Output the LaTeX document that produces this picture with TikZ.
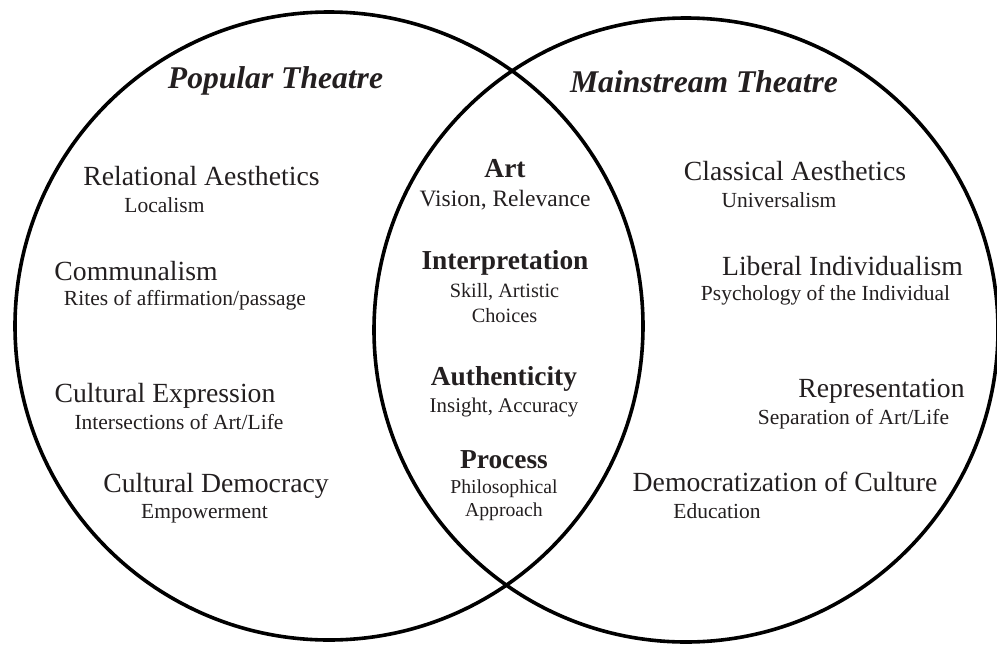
\documentclass[tikz,border=0pt]{standalone}
\usepackage{fontspec}
\setmainfont{Liberation Serif}
\usepackage{tikz}
\usepackage{xcolor}
\definecolor{inkcolor}{HTML}{231F20}
\colorlet{ringcolor}{black}
\tikzstyle{ring} = [
    draw=ringcolor,
    line width=3.6pt
    ]
\tikzstyle{settitle} = [
    text=inkcolor,
    anchor=base,
    inner sep=0pt,
    font=\fontsize{31.6}{34}\selectfont\bfseries\itshape
    ]
\tikzstyle{value} = [
    text=inkcolor,
    anchor=base,
    inner sep=0pt,
    font=\fontsize{27.7}{30}\selectfont
    ]
\tikzstyle{subvalue} = [
    text=inkcolor,
    anchor=base,
    inner sep=0pt,
    font=\fontsize{21.5}{24}\selectfont
    ]
\tikzstyle{shared} = [
    text=inkcolor,
    anchor=base,
    inner sep=0pt,
    font=\fontsize{27.4}{30}\selectfont\bfseries
    ]
% base of a two line node sits on its last line
\tikzstyle{subshared} = [
    text=inkcolor,
    anchor=base,
    inner sep=0pt,
    align=center
    ]

\begin{document}
\begin{tikzpicture}[x=1pt,y=-1pt]
\useasboundingbox (0,0) rectangle (997,646);

% the two sets
\draw[ring] (329,326) circle[radius=314pt];
\draw[ring] (686,330) circle[radius=312pt];

\node[settitle] (popular) at (275.5,88) {Popular Theatre};
\node[settitle] (mainstream) at (704,92) {Mainstream Theatre};

% left only
\node[value] (relational) at (201.5,185) {Relational Aesthetics};
\node[subvalue] (localism) at (164.5,212) {Localism};
\node[value] (communal) at (136,280) {Communalism};
\node[subvalue] (rites) at (185,305) {Rites of affirmation/passage};
\node[value] (expression) at (165,402) {Cultural Expression};
\node[subvalue] (intersect) at (179,429) {Intersections of Art/Life};
\node[value] (democracy) at (216,492) {Cultural Democracy};
\node[subvalue] (empower) at (204.5,518) {Empowerment};

% right only
\node[value] (classical) at (795,180) {Classical Aesthetics};
\node[subvalue] (universal) at (779,207) {Universalism};
\node[value] (liberal) at (842.5,275) {Liberal Individualism};
\node[subvalue] (psych) at (825.5,300) {Psychology of the Individual};
\node[value] (represent) at (881.5,397) {Representation};
\node[subvalue] (separate) at (853.5,424) {Separation of Art/Life};
\node[value] (democratize) at (785,491) {Democratization of Culture};
\node[subvalue] (education) at (717,518) {Education};

% overlap
\node[shared] (art) at (505,177) {Art};
\node[subshared, font=\fontsize{23.5}{25}\selectfont] (vision) at (505,206) {Vision, Relevance};
\node[shared] (interp) at (505,269) {Interpretation};
\node[subshared, font=\fontsize{20.3}{25}\selectfont] (skill) at (504.5,322) {Skill, Artistic\\Choices};
\node[shared] (authentic) at (504,385) {Authenticity};
\node[subshared, font=\fontsize{20.9}{25}\selectfont] (insight) at (504,412) {Insight, Accuracy};
\node[shared] (process) at (504,468) {Process};
\node[subshared, font=\fontsize{19.7}{23}\selectfont] (philo) at (504,516) {Philosophical\\Approach};
\end{tikzpicture}
\end{document}
